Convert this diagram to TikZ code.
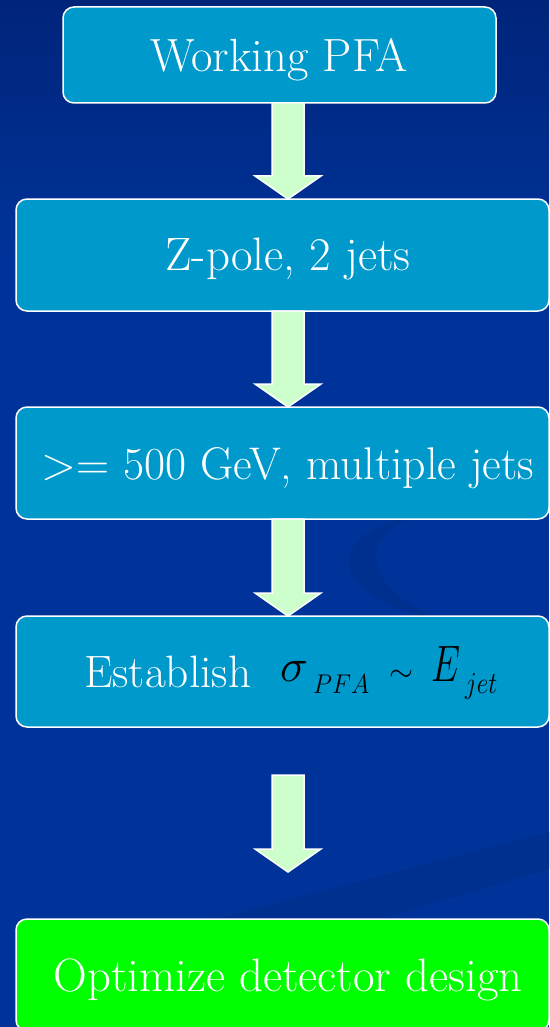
\documentclass[tikz,border=0pt]{standalone}
\usepackage{graphicx}
\usetikzlibrary{calc}
\definecolor{bgblue}{HTML}{003399}
\definecolor{bgtop}{HTML}{00247A}
\definecolor{bgdark}{HTML}{00308F}
\definecolor{boxblue}{HTML}{0099CC}
\definecolor{arrowfill}{HTML}{CCFFCC}
\definecolor{boxgreen}{HTML}{00FF00}
\tikzset{
  stepbox/.style={draw=white, line width=1.5pt, rounded corners=11pt, fill=boxblue, inner sep=0pt},
  greenbox/.style={stepbox, fill=boxgreen},
  lbl/.style={text=white, inner sep=0pt, anchor=base, font=\fontsize{40}{40}\selectfont},
  mth/.style={text=black, inner sep=0pt, anchor=base west, font=\fontsize{40}{40}\selectfont},
  blk/.style={draw=white, line width=1.5pt, fill=arrowfill, line join=miter},
}
\newcommand\blkarrow[2]{%
  \draw[blk] ($(#1)+(-16,0)$) -- ($(#1)+(16,0)$) -- ($(#2)+(16,-23)$) -- ($(#2)+(33,-23)$)
    -- (#2) -- ($(#2)+(-33,-23)$) -- ($(#2)+(-16,-23)$) -- cycle;}
\newcommand\fitw[2]{\resizebox{#1}{!}{#2}}
\begin{document}
\begin{tikzpicture}[x=1pt,y=-1pt]
\useasboundingbox (0,0) rectangle (549,1027);
% background
\fill[bgblue] (0,0) rectangle (549,1027);
\shade[top color=bgtop, bottom color=bgblue] (0,0) rectangle (549,260);
\fill[bgdark] (400,519) .. controls (335,535) and (320,590) .. (425,617)
  -- (440,617) .. controls (370,595) and (355,540) .. (410,519) -- cycle;
\fill[bgdark] (549,832) -- (549,869) -- (380,919) -- (215,919) -- cycle;

% boxes
\node[stepbox, minimum width=433pt, minimum height=96pt] (b1) at (279.5,55) {};
\node[stepbox, minimum width=533pt, minimum height=112pt] (b2) at (282.5,255) {};
\node[stepbox, minimum width=533pt, minimum height=112pt] (b3) at (282.5,463) {};
\node[stepbox, minimum width=533pt, minimum height=111pt] (b4) at (282.5,671.5) {};
\node[greenbox, minimum width=533pt, minimum height=112pt] (b5) at (282.5,975) {};

% labels
\node[lbl] (t1) at (279,71.7) {\fitw{257pt}{Working PFA}};
\node[lbl] (t2) at (288,270.7) {\fitw{245pt}{Z-pole, 2 jets}};
\node[lbl] (t3) at (288,479.3) {\fitw{492pt}{>= 500 GeV, multiple jets}};
\node[lbl, anchor=base west] (t4) at (84,687.3) {\fitw{167pt}{Establish}};
\node[mth] (m1) at (280,681.7) {\resizebox{28pt}{20pt}{$\sigma$}};
\node[mth] (m2) at (313,693.3) {\resizebox{56pt}{18.5pt}{$PFA$}};
\node[mth] (m3) at (389,681.7) {\resizebox{24pt}{!}{$\sim$}};
\node[mth] (m4) at (431,681.7) {\resizebox{29pt}{35pt}{$E$}};
\node[mth] (m5) at (465,693.3) {\resizebox{32pt}{20pt}{$jet$}};
\node[lbl] (t5) at (288,991.7) {\fitw{469pt}{Optimize detector design}};

% arrows
\coordinate (a1s) at (288,103);
\coordinate (a1e) at (288,199);
\coordinate (a2s) at (288,311);
\coordinate (a2e) at (288,407);
\coordinate (a3s) at (288,519);
\coordinate (a3e) at (288,616);
\coordinate (a4s) at (288,775);
\coordinate (a4e) at (288,872);
\blkarrow{a1s}{a1e}
\blkarrow{a2s}{a2e}
\blkarrow{a3s}{a3e}
\blkarrow{a4s}{a4e}
\end{tikzpicture}
\end{document}
